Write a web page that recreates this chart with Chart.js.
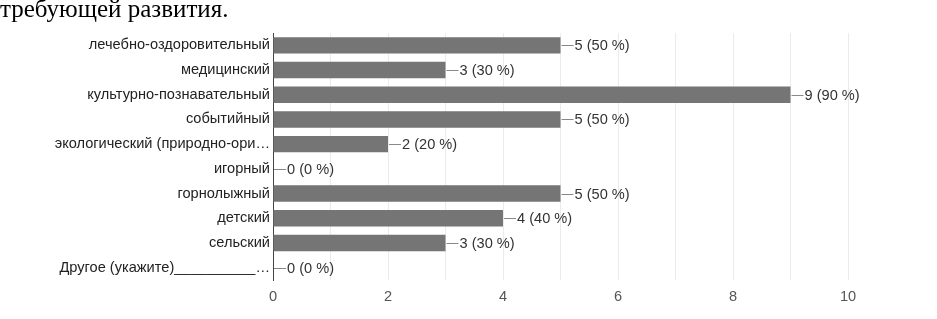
<!DOCTYPE html>
<html><head><meta charset="utf-8">
<script src="https://cdn.jsdelivr.net/npm/chart.js@4/dist/chart.umd.min.js"></script>
<style>
html,body{margin:0;padding:0;background:#fff;}
#wrap{position:relative;width:937px;height:319px;overflow:hidden;}
#title{position:absolute;left:0;top:-6px;font-family:"Liberation Serif","Times New Roman",serif;font-size:25px;line-height:29px;color:#000;white-space:nowrap;}
canvas{position:absolute;left:0;top:0;}
</style></head><body>
<div id="wrap"><canvas id="c" width="937" height="319"></canvas><div id="title">требующей развития.</div></div>
<script>
const categories = ["лечебно-оздоровительный","медицинский","культурно-познавательный","событийный","экологический (природно-ори…","игорный","горнолыжный","детский","сельский","Другое (укажите)__________…"];
const counts = [5,3,9,5,2,0,5,4,3,0];
const percents = [50,30,90,50,20,0,50,40,30,0];
const xTicks = [0,2,4,6,8,10];

const FONT = '"Liberation Sans", Arial, sans-serif';
const labelPlugin = {
  id:'vals',
  afterDatasetsDraw(chart){
    const ctx = chart.ctx;
    const meta = chart.getDatasetMeta(0);
    const xs = chart.scales.x;
    ctx.save();
    ctx.font = '14.6px ' + FONT;
    ctx.textBaseline = 'middle';
    ctx.textAlign = 'left';
    meta.data.forEach((bar,i)=>{
      const x0 = xs.getPixelForValue(counts[i]) + 1;
      const y = bar.y;
      ctx.strokeStyle = '#888';
      ctx.lineWidth = 1;
      ctx.beginPath();
      ctx.moveTo(x0, Math.round(y)+0.5);
      ctx.lineTo(x0+12, Math.round(y)+0.5);
      ctx.stroke();
      ctx.fillStyle = '#333';
      ctx.fillText(counts[i] + ' (' + percents[i] + ' %)', x0+13, y+1);
    });
    ctx.restore();
  }
};

new Chart(document.getElementById('c'), {
  type:'bar',
  data:{labels:categories, datasets:[{data:counts, backgroundColor:'#757575', borderWidth:0, barPercentage:0.92, categoryPercentage:0.72}]},
  options:{
    indexAxis:'y', responsive:false, animation:false,
    layout:{padding:{top:33,right:89,left:0,bottom:0}},
    plugins:{legend:{display:false}, tooltip:{enabled:false}},
    scales:{
      x:{min:0,max:10,
        ticks:{stepSize:1, autoSkip:false, maxRotation:0, padding:8, color:'#555', font:{family:FONT, size:14.6},
          callback:(v)=> xTicks.includes(v) ? String(v) : ''},
        grid:{color:'#ebebeb', drawTicks:false},
        border:{display:false},
        afterFit(s){ s.height = 39; }
      },
      y:{
        ticks:{color:'#222', font:{family:FONT, size:14.6}, autoSkip:false, padding:3},
        grid:{display:false, drawTicks:false},
        border:{display:true, color:'#444', width:1},
        afterFit(s){ s.width = 273; }
      }
    }
  },
  plugins:[labelPlugin]
});
</script>
</body></html>
